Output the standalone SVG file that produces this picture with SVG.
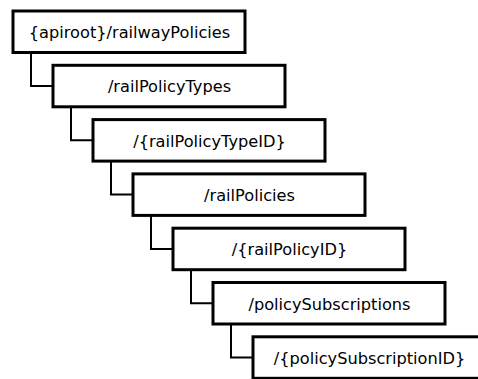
<svg xmlns="http://www.w3.org/2000/svg" width="478" height="379" viewBox="0 0 478 379">
<style>
.box{fill:#fff;stroke:#000;stroke-width:3}
.lbl{font-family:"DejaVu Sans",sans-serif;font-size:16.2px;fill:#000;text-anchor:middle}
.con{fill:none;stroke:#000;stroke-width:2}
</style>
<rect width="478" height="379" fill="#fff"/>
<g id="connectors">
<path class="con" d="M31,52.5 V86 H53"/>
<path class="con" d="M71,106.8 V140.3 H93"/>
<path class="con" d="M111,161.1 V194.6 H133"/>
<path class="con" d="M151,215.4 V248.9 H173"/>
<path class="con" d="M191,269.7 V303.2 H213"/>
<path class="con" d="M231,324 V357.5 H253"/>
</g>
<g id="n1"><rect class="box" x="13" y="11" width="232" height="41.5"/><text class="lbl" x="129.5" y="38">{apiroot}/railwayPolicies</text></g>
<g id="n2"><rect class="box" x="53" y="65.3" width="232" height="41.5"/><text class="lbl" x="169.5" y="92.3">/railPolicyTypes</text></g>
<g id="n3"><rect class="box" x="93" y="119.6" width="232" height="41.5"/><text class="lbl" x="209.5" y="146.6">/{railPolicyTypeID}</text></g>
<g id="n4"><rect class="box" x="133" y="173.9" width="232" height="41.5"/><text class="lbl" x="249.5" y="200.9">/railPolicies</text></g>
<g id="n5"><rect class="box" x="173" y="228.2" width="232" height="41.5"/><text class="lbl" x="289.5" y="255.2">/{railPolicyID}</text></g>
<g id="n6"><rect class="box" x="213" y="282.5" width="232" height="41.5"/><text class="lbl" x="329.5" y="309.5">/policySubscriptions</text></g>
<g id="n7"><rect class="box" x="253" y="336.8" width="232" height="41.5"/><text class="lbl" x="369.5" y="363.8">/{policySubscriptionID}</text></g>
</svg>
